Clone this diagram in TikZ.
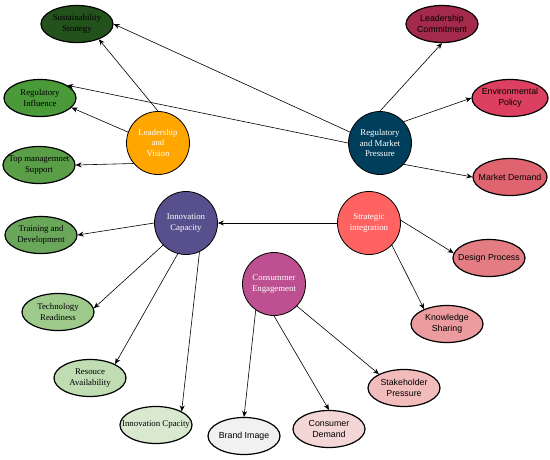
\documentclass[tikz,border=0pt]{standalone}
\usepackage{fontspec}
\setmainfont{Liberation Serif}
\newfontfamily\arialfont{Liberation Sans}
\usetikzlibrary{shapes.geometric,arrows.meta}

\definecolor{lvorange}{HTML}{FFA600}
\definecolor{rmpblue}{HTML}{003F5C}
\definecolor{icpurple}{HTML}{58508D}
\definecolor{cemagenta}{HTML}{BC5090}
\definecolor{sired}{HTML}{FF6361}
\definecolor{greenA}{HTML}{24521C}
\definecolor{greenB}{HTML}{4A9A3A}
\definecolor{greenC}{HTML}{5A9E48}
\definecolor{greenD}{HTML}{6AA75A}
\definecolor{greenE}{HTML}{9ECB8C}
\definecolor{greenF}{HTML}{BFDCB2}
\definecolor{greenG}{HTML}{D8E9CF}
\definecolor{redA}{HTML}{A32A4A}
\definecolor{redB}{HTML}{DC3F5F}
\definecolor{redC}{HTML}{DF6470}
\definecolor{redD}{HTML}{E47C84}
\definecolor{redE}{HTML}{EC9C9F}
\definecolor{redF}{HTML}{F2BCBC}
\definecolor{redG}{HTML}{F4D6D6}
\definecolor{greyA}{HTML}{F1F1F1}

\tikzset{
  hub/.style={circle, draw=black, line width=0.8pt, minimum size=63pt,
    inner sep=-20pt, text=white, align=center,
    font=\fontsize{8.8}{10.8}\selectfont},
  leaf/.style={ellipse, draw=black, line width=1.2pt, minimum width=72pt,
    minimum height=37pt, inner sep=-20pt, align=center,
    font=\fontsize{8.8}{10.8}\selectfont},
  sansleaf/.style={leaf, font=\arialfont\fontsize{8.8}{10.8}\selectfont},
  link/.style={-{Stealth[length=6pt,width=5pt]}, line width=0.6pt},
}

\begin{document}
\begin{tikzpicture}[x=1pt, y=-1pt]
    \useasboundingbox (0, 0) rectangle (550, 459) ;
    \node[hub, fill=lvorange] (lv) at (158, 143) {Leadership\\and\\Vision} ;
    \node[hub, fill=rmpblue] (rmp) at (380, 143) {Regulatory\\and Market\\Pressure} ;
    \node[hub, fill=icpurple] (ic) at (186, 223) {Innovation\\Capacity} ;
    \node[hub, fill=sired] (si) at (369, 223) {Strategic\\integration} ;
    \node[hub, fill=cemagenta] (ce) at (274, 284) {Consummer\\Engagement} ;

    \node[leaf, fill=greenA] (ss) at (77, 24) {Sustainability\\Strategy} ;
    \node[leaf, fill=greenB] (ri) at (40, 98) {Regulatory\\Influence} ;
    \node[leaf, fill=greenC] (tms) at (39, 165) {Top managemnet\\Support} ;
    \node[leaf, fill=greenD] (td) at (41, 235) {Training and\\Development} ;
    \node[leaf, fill=greenE] (tr) at (58, 312) {Technology\\Readiness} ;
    \node[leaf, fill=greenF] (ra) at (90, 378) {Resouce\\Availability} ;
    \node[leaf, fill=greenG] (icp) at (156, 425) {Innovation Cpacity} ;

    \node[sansleaf, fill=redA] (lc) at (442, 24) {Leadership\\Commitment} ;
    \node[sansleaf, fill=redB, minimum width=76pt] (ep) at (510, 98) {Environmental\\Policy} ;
    \node[sansleaf, fill=redC, minimum width=74pt] (md) at (510, 177) {Market Demand} ;
    \node[sansleaf, fill=redD] (dp) at (489, 258) {Design Process} ;
    \node[sansleaf, fill=redE] (ks) at (447, 324) {Knowledge\\Sharing} ;
    \node[sansleaf, fill=redF] (sp) at (404, 388) {Stakeholder\\Pressure} ;
    \node[sansleaf, fill=redG] (cd) at (329, 429) {Consumer\\Demand} ;
    \node[sansleaf, fill=greyA] (bi) at (244, 436) {Brand Image} ;

    \draw[link] (lv.north) -- (ss.-35) ;
    \draw[link] (lv.160) -- (ri.-17) ;
    \draw[link] (lv.220) -- (tms.east) ;
    \draw[link] (rmp.160) -- (ss.east) ;
    \draw[link] (rmp.west) -- (ri.25) ;
    \draw[link] (rmp.north) -- (lc.south) ;
    \draw[link] (rmp.42) -- (ep.west) ;
    \draw[link] (rmp.-42) -- (md.west) ;
    \draw[link] (si.west) -- (ic.east) ;
    \draw[link] (si.5) -- (dp.172) ;
    \draw[link] (si.-44) -- (ks.147) ;
    \draw[link] (ic.west) -- (td.east) ;
    \draw[link] (ic.224) -- (tr.6) ;
    \draw[link] (ic.255) -- (ra.29) ;
    \draw[link] (ic.-65) -- (icp.28) ;
    \draw[link] (ce.235) -- (bi.north) ;
    \draw[link] (ce.south) -- (cd.north) ;
    \draw[link] (ce.-44) -- (sp.151) ;
  \end{tikzpicture}
\end{document}
